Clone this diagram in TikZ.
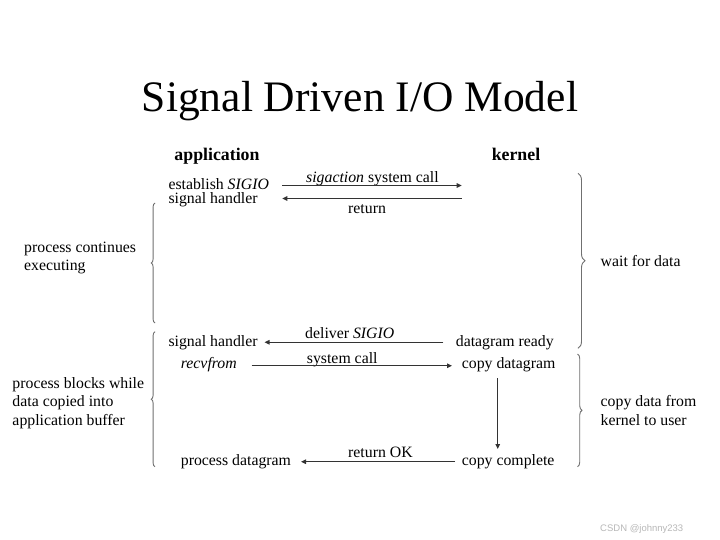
\documentclass[tikz,border=0pt]{standalone}
\usepackage{fontspec}
\setmainfont{Liberation Serif}
\newfontfamily\wmfont{Liberation Sans}
\usetikzlibrary{arrows.meta,decorations.pathreplacing}
\definecolor{linecol}{HTML}{333333}
\definecolor{bracecol}{HTML}{707070}
\definecolor{wmcol}{HTML}{B8B8B8}
\tikzset{
  txt/.style={inner sep=0pt, font=\fontsize{15.8}{19}\selectfont},
  hdr/.style={inner sep=0pt, font=\fontsize{17.8}{21}\selectfont\bfseries},
  msg/.style={draw=linecol, line width=1.1pt, -{Triangle[length=5pt,width=4.5pt]}},
  brc/.style={draw=bracecol, line width=0.9pt, decorate, decoration={brace, amplitude=#1}},
}
\begin{document}
\begin{tikzpicture}[x=1pt,y=-1pt]
\useasboundingbox (0,0) rectangle (720,540);
\fill[white] (0,0) rectangle (720,540);

% title
\node[inner sep=0pt, anchor=base, font=\fontsize{43.5}{50}\selectfont] (title) at (360,111.7) {Signal Driven I/O Model};

% headers
\node[hdr, anchor=base] (app) at (217,161) {application};
\node[hdr, anchor=base] (ker) at (516,161) {kernel};

% application side texts
\node[txt, anchor=base west] (est) at (168.3,189.3) {establish \textit{SIGIO}};
\node[txt, anchor=base west] (sh1) at (168.3,203.8) {signal handler};
\node[txt, anchor=base west] (sh2) at (168.3,346) {signal handler};
\node[txt, anchor=base west] (rcv) at (180.7,368.3) {\textit{recvfrom}};
\node[txt, anchor=base west] (pdg) at (180.7,465.7) {process datagram};

% kernel side texts
\node[txt, anchor=base west] (dgr) at (455.7,346) {datagram ready};
\node[txt, anchor=base west] (cdg) at (461.7,368.3) {copy datagram};
\node[txt, anchor=base west] (ccp) at (461.7,465.7) {copy complete};

% arrow labels
\node[txt, anchor=base west] (l1) at (306,183) {\textit{sigaction} system call};
\node[txt, anchor=base west] (l2) at (348,214) {return};
\node[txt, anchor=base west] (l3) at (305,338) {deliver \textit{SIGIO}};
\node[txt, anchor=base west] (l4) at (306.7,363.3) {system call};
\node[txt, anchor=base west] (l5) at (348,457.7) {return OK};

% arrow endpoints
\coordinate (a1s) at (282.3,185.5);
\coordinate (a1e) at (461.7,185.5);
\coordinate (a2s) at (461.7,198.5);
\coordinate (a2e) at (282.3,198.5);
\coordinate (a3s) at (443.3,342.3);
\coordinate (a3e) at (264.5,342.3);
\coordinate (a4s) at (251.7,365.7);
\coordinate (a4e) at (452,365.7);
\coordinate (a5s) at (497.7,378);
\coordinate (a5e) at (497.7,449);
\coordinate (a6s) at (455,461.7);
\coordinate (a6e) at (301,461.7);

\draw[msg] (a1s) -- (a1e);
\draw[msg] (a2s) -- (a2e);
\draw[msg] (a3s) -- (a3e);
\draw[msg] (a4s) -- (a4e);
\draw[msg] (a5s) -- (a5e);
\draw[msg] (a6s) -- (a6e);

% braces
\coordinate (b1b) at (155,323);
\coordinate (b1t) at (155,203);
\coordinate (b2b) at (155,466.7);
\coordinate (b2t) at (155,331.7);
\coordinate (b3t) at (578,173.3);
\coordinate (b3b) at (578,348.3);
\coordinate (b4t) at (577.5,354);
\coordinate (b4b) at (577.5,466.7);
\draw[brc=3.8pt] (b1b) -- (b1t);
\draw[brc=3.8pt] (b2b) -- (b2t);
\draw[brc=7pt] (b3t) -- (b3b);
\draw[brc=4.5pt] (b4t) -- (b4b);

% brace labels
\node[txt, anchor=base west] (pc1) at (24,252.7) {process continues};
\node[txt, anchor=base west] (pc2) at (24,270.5) {executing};
\node[txt, anchor=base west] (pb1) at (12.3,388.3) {process blocks while};
\node[txt, anchor=base west] (pb2) at (12.3,406.7) {data copied into};
\node[txt, anchor=base west] (pb3) at (12.3,425) {application buffer};
\node[txt, anchor=base west] (wfd) at (600.5,266.7) {wait for data};
\node[txt, anchor=base west] (cd1) at (600.5,406.7) {copy data from};
\node[txt, anchor=base west] (cd2) at (600.5,425.3) {kernel to user};

% watermark
\node[inner sep=0pt, anchor=base west, text=wmcol, font=\wmfont\fontsize{9.5}{11}\selectfont] (wm) at (600,531) {CSDN @johnny233};
\end{tikzpicture}
\end{document}
